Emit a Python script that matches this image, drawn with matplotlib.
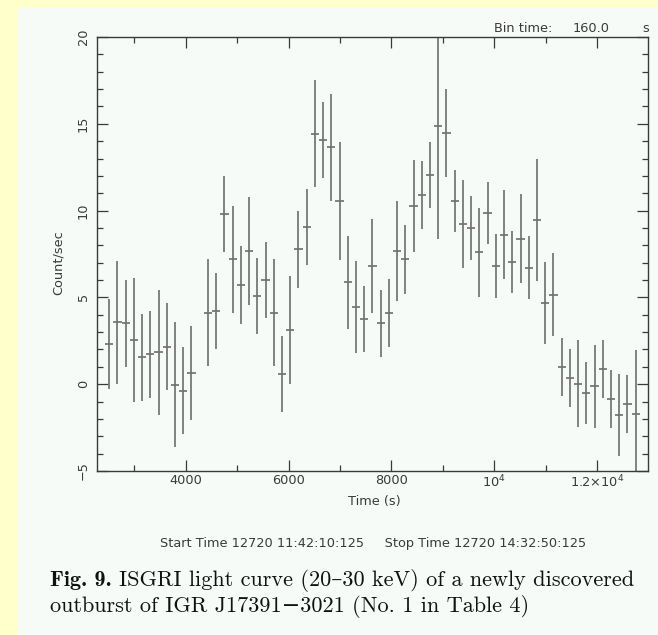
import matplotlib
matplotlib.use('Agg')
import numpy as np
import matplotlib.pyplot as plt
from matplotlib.patches import Rectangle
from matplotlib.ticker import FixedLocator, FixedFormatter, MultipleLocator

# ISGRI light curve, 20-30 keV, 160 s bins (one bin missing near 4270 s)
times = [2510, 2670, 2830, 2990, 3150, 3310, 3470, 3630, 3790, 3950, 4110,
         4430, 4590, 4750, 4910, 5070, 5230, 5390, 5550, 5710, 5870, 6030,
         6190, 6350, 6510, 6670, 6830, 6990, 7150, 7310, 7470, 7630, 7790,
         7950, 8110, 8270, 8430, 8590, 8750, 8910, 9070, 9230, 9390, 9550,
         9710, 9870, 10030, 10190, 10350, 10510, 10670, 10830, 10990, 11150,
         11310, 11470, 11630, 11790, 11950, 12110, 12270, 12430, 12590, 12750]
rate = [2.32, 3.57, 3.50, 2.55, 1.54, 1.73, 1.84, 2.17, -0.04, -0.37, 0.65,
        4.13, 4.21, 9.80, 7.19, 5.71, 7.67, 5.07, 5.99, 4.13, 0.58, 3.11,
        7.76, 9.07, 14.43, 14.05, 13.64, 10.56, 5.86, 4.42, 3.73, 6.80, 3.50,
        4.11, 7.67, 7.19, 10.26, 10.89, 12.06, 14.89, 14.48, 10.56, 9.24, 8.99,
        7.59, 9.87, 6.80, 8.61, 7.03, 8.38, 6.72, 9.47, 4.67, 5.15,
        0.98, 0.36, 0.04, -0.52, -0.12, 0.90, -0.88, -1.79, -1.15, -1.71]
rate_err = [2.6, 3.55, 2.5, 3.57, 2.5, 2.5, 3.6, 2.5, 3.6, 2.5, 2.7,
            3.1, 2.2, 2.2, 3.1, 2.25, 3.1, 2.2, 2.2, 3.1, 2.2, 3.1,
            2.2, 2.2, 3.07, 2.2, 3.1, 3.4, 2.7, 2.65, 1.9, 2.7, 1.95,
            1.97, 2.9, 2.0, 2.65, 1.95, 1.9, 6.55, 2.55, 1.8, 2.55, 1.85,
            2.55, 1.8, 1.85, 2.55, 1.8, 2.55, 1.83, 3.5, 2.35, 2.4,
            1.68, 1.66, 2.5, 1.8, 2.4, 1.67, 1.67, 2.35, 1.67, 3.7]
bin_time = 160.0

xticks = [4000, 6000, 8000, 10000, 12000]
xtick_labels = ['4000', '6000', '8000', r'$10^4$', r'$1.2{\times}10^4$']
yticks = [-5, 0, 5, 10, 15, 20]

W, H = 658, 635
BG = '#ffffcc'
PANEL = '#f6fbf7'
INK = '#3a3a3a'
FS = 9.3

plt.rcParams['font.family'] = ['DejaVu Sans']

fig = plt.figure(figsize=(W / 100, H / 100), dpi=100)
fig.patch.set_facecolor(BG)
fig.add_artist(Rectangle((18 / W, 0), 1 - 18 / W, 1 - 8 / H,
                         transform=fig.transFigure, facecolor=PANEL,
                         edgecolor='none', zorder=-10))

def fx(px):
    return px / W

def fy(py):
    return 1 - py / H

ax = fig.add_axes([fx(97), fy(471), fx(648) - fx(97), fy(37) - fy(471)])
ax.set_facecolor(PANEL)

ax.errorbar(times, rate, yerr=rate_err, xerr=bin_time / 2, fmt='none',
            ecolor='#727272', elinewidth=1.25, capsize=0)

ax.set_xlim(2272, 12990)
ax.set_ylim(-5, 20)

ax.xaxis.set_major_locator(FixedLocator(xticks))
ax.xaxis.set_major_formatter(FixedFormatter(xtick_labels))
ax.xaxis.set_minor_locator(MultipleLocator(1000))
ax.yaxis.set_major_locator(FixedLocator(yticks))
ax.yaxis.set_minor_locator(MultipleLocator(1))

for s in ax.spines.values():
    s.set_color(INK)
    s.set_linewidth(1.0)
ax.tick_params(which='both', direction='in', top=True, right=True,
               color=INK, width=0.9, labelcolor=INK, labelsize=FS)
ax.tick_params(which='major', length=8)
ax.tick_params(which='minor', length=4)
ax.tick_params(axis='x', pad=2)
ax.tick_params(axis='y', labelrotation=90, pad=5)
for lbl in ax.get_yticklabels():
    lbl.set_va('center')

fig.text(fx(374), fy(501), 'Time (s)', ha='center', va='center',
         color=INK, fontsize=FS)
fig.text(fx(58), fy(263), 'Count/sec', ha='center', va='center',
         rotation=90, color=INK, fontsize=FS)

fig.text(fx(494), fy(28), 'Bin time:', ha='left', va='center',
         color=INK, fontsize=FS)
fig.text(fx(610), fy(28), '160.0', ha='right', va='center',
         color=INK, fontsize=FS)
fig.text(fx(649), fy(28), 's', ha='right', va='center',
         color=INK, fontsize=FS)

fig.text(fx(373), fy(544),
         'Start Time 12720 11:42:10:125     Stop Time 12720 14:32:50:125',
         ha='center', va='center', color=INK, fontsize=FS)

# figure caption: bold label, then the text right after it
CAP_FS = 16.0
renderer = fig.canvas.get_renderer()
lab = fig.text(fx(50), fy(581), 'Fig. 9.', ha='left', va='center',
               fontsize=CAP_FS, color='#111111', family=['cmb10', 'DejaVu Serif'])
bb = lab.get_window_extent(renderer)
x_after = bb.x1 / W + 7 / W
fig.text(x_after, fy(581),
         'ISGRI light curve (20\u201330 keV) of a newly discovered',
         ha='left', va='center', fontsize=CAP_FS, color='#111111',
         family=['cmr10', 'DejaVu Serif'])
fig.text(fx(50), fy(606), 'outburst of IGR J17391\u22123021 (No. 1 in Table 4)',
         ha='left', va='center', fontsize=CAP_FS, color='#111111',
         family=['cmr10', 'DejaVu Serif'])

fig.savefig('out.png', dpi=100, facecolor=BG)
